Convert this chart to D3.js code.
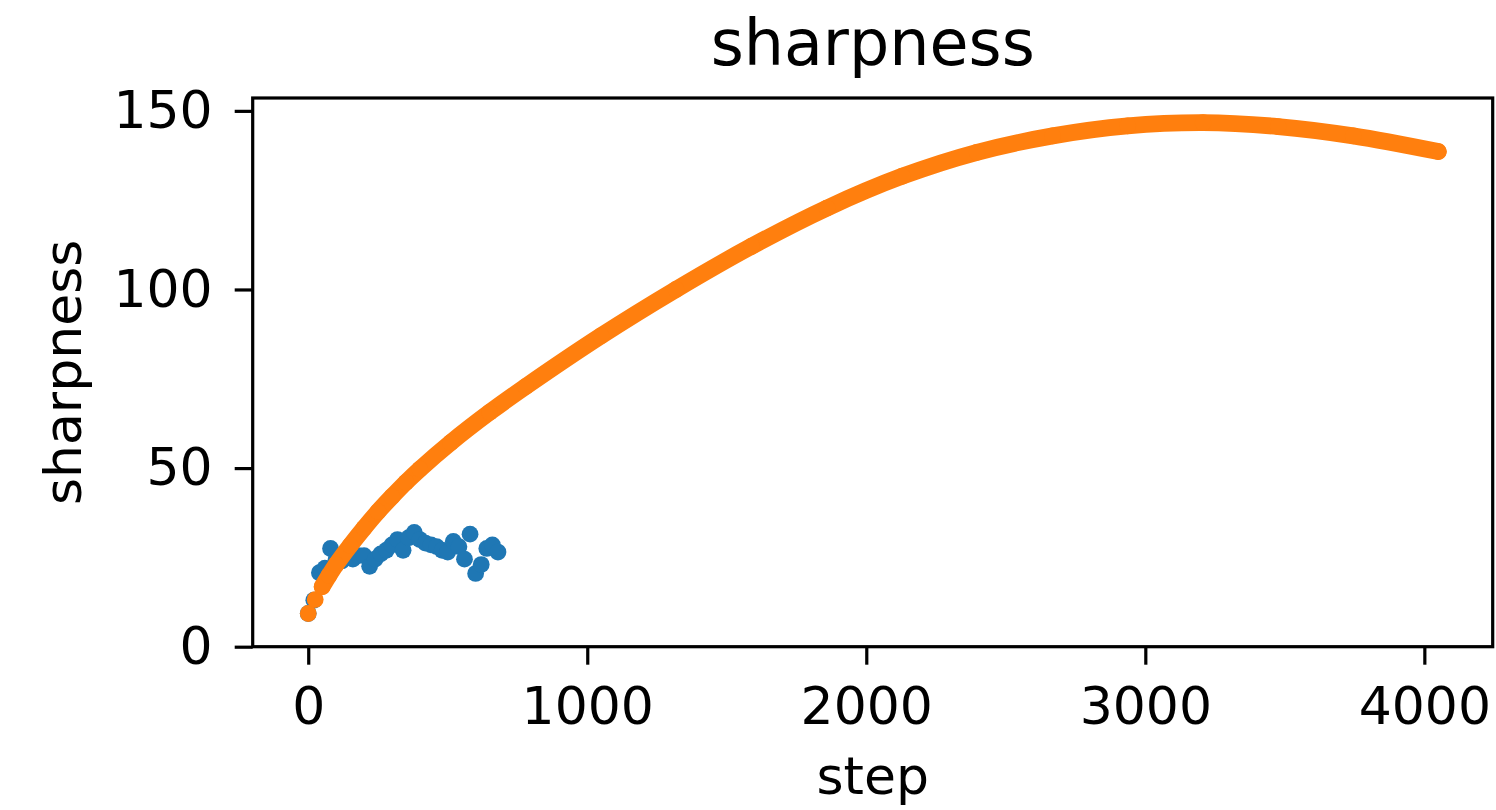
<!DOCTYPE html>
<html>
<head>
<meta charset="utf-8">
<script src="https://cdn.jsdelivr.net/npm/d3@7"></script>
<style>
  html, body { margin: 0; padding: 0; background: #fff; }
  svg { display: block; }
  text { font-family: "DejaVu Sans", sans-serif; fill: #000; }
</style>
</head>
<body>
<svg id="chart" width="1496" height="810"></svg>
<script>
// ---- data ----
const title = "sharpness";
const xLabel = "step";
const yLabel = "sharpness";
const xTicks = [0, 1000, 2000, 3000, 4000];
const yTicks = [0, 50, 100, 150];

const blueSteps = [0, 20, 40, 60, 80, 100, 120, 140, 160, 180, 200, 220, 240, 260, 280, 300, 320, 340,
  360, 380, 400, 420, 440, 460, 480, 500, 520, 540, 560, 580, 600, 620, 640, 660, 680];
const blueValues = [9.3, 13, 20.7, 22, 27.5, 24.5, 24, 25, 24.5, 25.5, 25.5, 22.5, 24.5, 26, 27, 28.5, 30, 27,
  30.5, 32, 30, 29, 28.5, 28, 27, 26.5, 29.5, 28, 24.5, 31.5, 20.5, 23, 27.5, 28.5, 26.5];

const orangeSteps = [0, 25, 50, 75, 100, 150, 200, 250, 300, 350, 400, 510, 650, 779, 1049, 1318, 1589, 1859,
  2129, 2397, 2668, 2937, 3207, 3476, 3745, 4050];
const orangeValues = [9.3, 13.2, 16.8, 20.0, 23.0, 28.3, 33.2, 37.8, 42.0, 46.0, 49.7, 57.1, 65.6, 72.8, 87.0, 100.0,
  112.1, 122.8, 131.7, 138.4, 143.0, 145.8, 146.7, 145.6, 143.0, 138.6];

// ---- layout ----
const svg = d3.select("#chart");
const L = 252.7, T = 98, R = 1492.7, B = 646.7;
const x = d3.scaleLinear().domain([-199, 4245]).range([L, R]);
const y = d3.scaleLinear().domain([0, 153.6]).range([B, T]);

const blue = "#1f77b4", orange = "#ff7f0e";
const rDot = 8.4;

svg.append("clipPath").attr("id", "clip").append("rect")
  .attr("x", L).attr("y", T).attr("width", R - L).attr("height", B - T);
const plot = svg.append("g").attr("clip-path", "url(#clip)");

const blueData = blueSteps.map((s, i) => ({ s, v: blueValues[i] }));
const orangeData = orangeSteps.map((s, i) => ({ s, v: orangeValues[i] }));

plot.selectAll("circle.b").data(blueData).join("circle")
  .attr("class", "b")
  .attr("cx", d => x(d.s)).attr("cy", d => y(d.v)).attr("r", rDot)
  .attr("fill", blue);

// orange: dense markers that merge into a continuous band
const line = d3.line().x(d => x(d.s)).y(d => y(d.v)).curve(d3.curveCatmullRom);
plot.append("path").datum(orangeData.slice(2))
  .attr("d", line)
  .attr("fill", "none").attr("stroke", orange)
  .attr("stroke-width", rDot * 2).attr("stroke-linecap", "round").attr("stroke-linejoin", "round");
plot.selectAll("circle.o").data(orangeData).join("circle")
  .attr("class", "o")
  .attr("cx", d => x(d.s)).attr("cy", d => y(d.v)).attr("r", rDot)
  .attr("fill", orange);

// ---- axes ----
const fs = 52;
const xAxis = d3.axisBottom(x).tickValues(xTicks).tickFormat(d3.format("d")).tickSize(18).tickPadding(22);
const gx = svg.append("g").attr("transform", `translate(0,${B})`).call(xAxis);
gx.select(".domain").remove();
gx.selectAll(".tick line").attr("stroke", "#000").attr("stroke-width", 3.2);
gx.selectAll(".tick text").attr("font-size", fs).attr("font-family", "DejaVu Sans, sans-serif").attr("fill", "#000");

const yAxis = d3.axisLeft(y).tickValues(yTicks).tickFormat(d3.format("d")).tickSize(18).tickPadding(22);
const gy = svg.append("g").attr("transform", `translate(${L},0)`).call(yAxis);
gy.select(".domain").remove();
gy.selectAll(".tick line").attr("stroke", "#000").attr("stroke-width", 3.2);
gy.selectAll(".tick text").attr("font-size", fs).attr("font-family", "DejaVu Sans, sans-serif").attr("fill", "#000");

svg.append("rect").attr("x", L).attr("y", T).attr("width", R - L).attr("height", B - T)
  .attr("fill", "none").attr("stroke", "#000").attr("stroke-width", 3.2);

// labels
svg.append("text").attr("x", (L + R) / 2).attr("y", 65).attr("text-anchor", "middle")
  .attr("font-size", 63.5).text(title);
svg.append("text").attr("x", (L + R) / 2).attr("y", 794).attr("text-anchor", "middle")
  .attr("font-size", fs).text(xLabel);
svg.append("text").attr("transform", `translate(81,${(T + B) / 2}) rotate(-90)`).attr("text-anchor", "middle")
  .attr("font-size", fs).text(yLabel);
</script>
</body>
</html>
